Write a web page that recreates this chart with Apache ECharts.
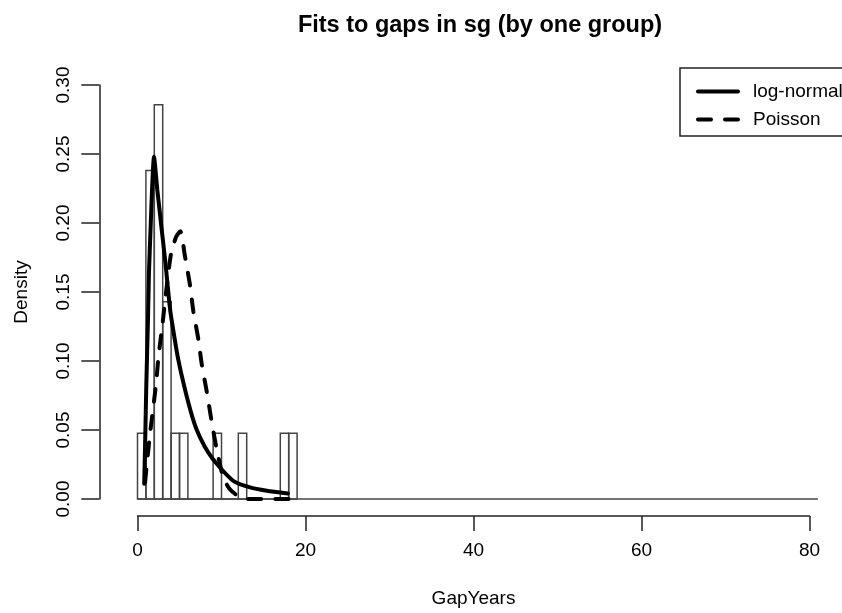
<!DOCTYPE html>
<html>
<head>
<meta charset="utf-8">
<script src="https://cdn.jsdelivr.net/npm/echarts@6/dist/echarts.min.js"></script>
<style>
    html, body { margin: 0; padding: 0; background: #fff; }
    #main { width: 842px; height: 613px; }
</style>
</head>
<body>
<div id="main"></div>
<script>
    // histogram: bins of width 1 starting at 0 (density)
    var binStart = [0, 1, 2, 3, 4, 5, 6, 7, 8, 9, 10, 11, 12, 13, 14, 15, 16, 17, 18];
    var binDensity = [0.0476, 0.2381, 0.2857, 0.1429, 0.0476, 0.0476, 0, 0, 0, 0.0476,
        0, 0, 0.0476, 0, 0, 0, 0, 0.0476, 0.0476];
    // empty bins continue up to here
    var histEnd = 81;

    // fitted curves
    var logNormal = [
        [0.8, 0.011], [0.93, 0.047], [1.05, 0.083], [1.25, 0.131], [1.37, 0.165], [1.57, 0.198],
        [1.73, 0.224], [1.96, 0.248], [2.36, 0.224], [2.83, 0.198], [3.31, 0.172], [3.83, 0.140],
        [4.03, 0.131], [4.82, 0.102], [5.81, 0.0756], [6.81, 0.054], [7.5, 0.044], [8.4, 0.034],
        [9.5, 0.025], [11.4, 0.0132], [13.4, 0.0084], [15.4, 0.006], [17.9, 0.004]
    ];
    var poisson = [
        [0.9, 0.012], [1.45, 0.045], [2.2, 0.083], [2.5, 0.103], [3.0, 0.128], [3.5, 0.155],
        [4.0, 0.178], [4.6, 0.19], [5.1, 0.194], [5.65, 0.176], [6.25, 0.155], [6.65, 0.136],
        [7.24, 0.116], [7.64, 0.098], [8.24, 0.078], [8.83, 0.056], [9.43, 0.036], [10.2, 0.0156],
        [11.0, 0.007], [12.0, 0.002], [13.0, 0.0], [18.0, 0.0]
    ];

    var xTicks = [0, 20, 40, 60, 80];
    var yTicks = [0, 0.05, 0.10, 0.15, 0.20, 0.25, 0.30];
    var legendNames = ['log-normal', 'Poisson'];

    var histData = [];
    for (var i = 0; i < binStart.length; i++) {
        histData.push([binStart[i], binStart[i] + 1, binDensity[i]]);
    }

    var font = '"Liberation Sans", Arial, sans-serif';
    var myChart = echarts.init(document.getElementById('main'));
    myChart.setOption({
        animation: false,
        title: {
            text: 'Fits to gaps in sg (by one group)',
            left: 475,
            top: 9,
            textAlign: 'center',
            textStyle: { fontFamily: font, fontSize: 23.5, fontWeight: 'bold', color: '#000' }
        },
        legend: {
            data: legendNames,
            orient: 'vertical',
            left: 680,
            top: 68,
            itemWidth: 40,
            itemHeight: 20,
            itemGap: 9,
            padding: [14, 40, 7, 16],
            borderColor: '#222',
            borderWidth: 1.5,
            itemStyle: { opacity: 0 },
            lineStyle: { width: 4 },
            textStyle: { fontFamily: font, fontSize: 19, color: '#000', padding: [0, 0, 0, 10] }
        },
        grid: {
            left: 137.5,
            right: 32.5,
            top: 85,
            bottom: 111.3
        },
        xAxis: {
            type: 'value',
            min: 0,
            max: 80,
            interval: 20,
            offset: 17,
            name: 'GapYears',
            nameLocation: 'middle',
            nameGap: 73,
            nameTextStyle: { fontFamily: font, fontSize: 19, color: '#000' },
            splitLine: { show: false },
            axisLine: { show: true, onZero: false, lineStyle: { color: '#222', width: 1.5 } },
            axisTick: { show: true, length: 15, lineStyle: { color: '#222', width: 1.5 } },
            axisLabel: {
                margin: 25, fontFamily: font, fontSize: 19, color: '#000',
                formatter: function (v) { return xTicks.indexOf(v) >= 0 ? String(v) : ''; }
            }
        },
        yAxis: {
            type: 'value',
            min: 0,
            max: 0.3,
            interval: 0.05,
            offset: 38.2,
            name: 'Density',
            nameLocation: 'middle',
            nameRotate: 90,
            nameGap: 68,
            nameTextStyle: { fontFamily: font, fontSize: 19, color: '#000' },
            splitLine: { show: false },
            axisLine: { show: true, onZero: false, lineStyle: { color: '#222', width: 1.5 } },
            axisTick: { show: true, length: 18, lineStyle: { color: '#222', width: 1.5 } },
            axisLabel: {
                rotate: 90, margin: 26, fontFamily: font, fontSize: 19, color: '#000',
                formatter: function (v) {
                    for (var k = 0; k < yTicks.length; k++) {
                        if (Math.abs(yTicks[k] - v) < 1e-9) return yTicks[k].toFixed(2);
                    }
                    return '';
                }
            }
        },
        series: [
            {
                name: 'hist',
                type: 'custom',
                data: histData,
                clip: false,
                renderItem: function (params, api) {
                    var p0 = api.coord([api.value(0), api.value(2)]);
                    var p1 = api.coord([api.value(1), 0]);
                    return {
                        type: 'rect',
                        shape: { x: p0[0], y: p0[1], width: p1[0] - p0[0], height: p1[1] - p0[1] },
                        style: { fill: 'none', stroke: '#444', lineWidth: 1.5 }
                    };
                }
            },
            {
                // empty bins drawn as a flat line at 0
                name: 'baseline',
                type: 'custom',
                data: [[0, histEnd]],
                clip: false,
                renderItem: function (params, api) {
                    var a = api.coord([api.value(0), 0]);
                    var b = api.coord([api.value(1), 0]);
                    return {
                        type: 'line',
                        shape: { x1: a[0], y1: a[1], x2: b[0], y2: b[1] },
                        style: { stroke: '#444', lineWidth: 1.5 }
                    };
                }
            },
            {
                name: 'log-normal',
                type: 'line',
                data: logNormal,
                symbol: 'none',
                smooth: 0.2,
                color: '#000',
                lineStyle: { color: '#000', width: 4, cap: 'round' }
            },
            {
                name: 'Poisson',
                type: 'line',
                data: poisson,
                symbol: 'none',
                smooth: 0.2,
                color: '#000',
                lineStyle: { color: '#000', width: 4, type: [13, 14], cap: 'round' }
            }
        ]
    });
</script>
</body>
</html>
